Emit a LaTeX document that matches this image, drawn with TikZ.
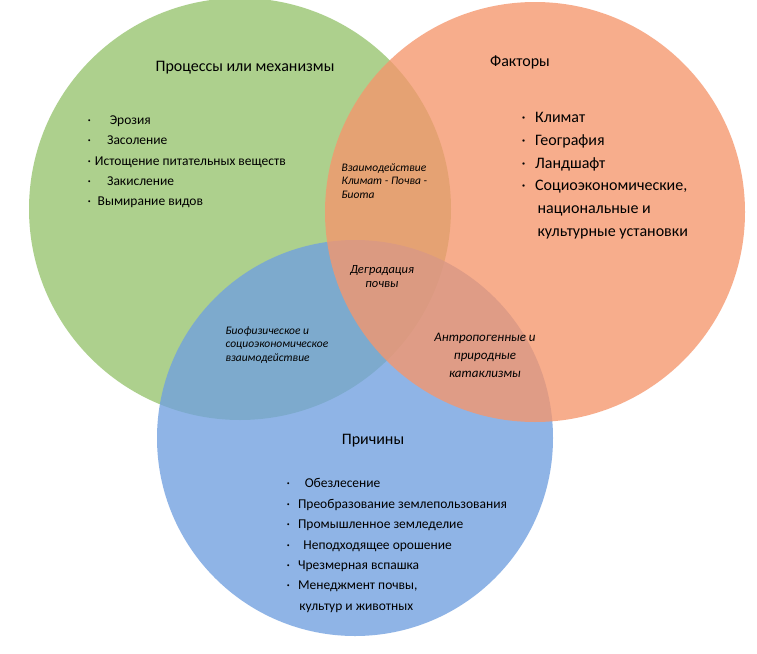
\documentclass[tikz,border=0pt]{standalone}
\usepackage{fontspec}
\setmainfont{Carlito}
\begin{document}
\begin{tikzpicture}[x=1pt,y=-1pt,
  circ/.style={opacity=0.78},
  head/.style={font=\fontsize{16}{19}\selectfont},
  lst/.style={font=\fontsize{13.5}{20.4}\selectfont,align=left,anchor=west},
  big/.style={font=\fontsize{16}{22.8}\selectfont,align=left,anchor=west},
  ov/.style={font=\itshape\fontsize{11.5}{13.5}\selectfont,align=left}]
\fill[white] (0,0) rectangle (757,653);
\useasboundingbox (0,0) rectangle (757,653);
\fill[circ,fill={rgb,255:red,150;green,196;blue,110}] (240,209) circle (211);
\fill[circ,fill={rgb,255:red,112;green,160;blue,224}] (355,438) circle (198);
\fill[circ,fill={rgb,255:red,246;green,150;blue,108}] (535,212) circle (210);
\node[head] (h1) at (245,68) {Процессы или механизмы};
\node[head] (h2) at (520,62) {Факторы};
\node[head] (h3) at (373,441) {Причины};
\node[lst] (l1) at (84,161) {\begin{tabular}{@{}l@{}}
·\hspace{1.4em}Эрозия\\
·\hspace{1.2em}Засоление\\
·\hspace{0.3em}Истощение питательных веществ\\
·\hspace{1.2em}Закисление\\
·\hspace{0.5em}Вымирание видов\end{tabular}};
\node[big] (l2) at (518,175) {\begin{tabular}{@{}l@{}}
·\hspace{0.6em}Климат\\
·\hspace{0.6em}География\\
·\hspace{0.6em}Ландшафт\\
·\hspace{0.6em}Социоэкономические,\\
\hspace{1.0em}национальные и\\
\hspace{1.0em}культурные установки\end{tabular}};
\node[lst] (l3) at (283,545) {\begin{tabular}{@{}l@{}}
·\hspace{1.1em}Обезлесение\\
·\hspace{0.6em}Преобразование землепользования\\
·\hspace{0.6em}Промышленное земледелие\\
·\hspace{1.0em}Неподходящее орошение\\
·\hspace{0.6em}Чрезмерная вспашка\\
·\hspace{0.6em}Менеджмент почвы,\\
\hspace{0.95em}культур и животных\end{tabular}};
\node[ov,anchor=west] (o1) at (338,181) {Взаимодействие\\Климат - Почва -\\Биота};
\node[ov,align=center,font=\itshape\fontsize{12.5}{14}\selectfont] (o2) at (382,277) {Деградация\\почвы};
\node[ov,anchor=west] (o3) at (222,345) {Биофизическое и\\социоэкономическое\\взаимодействие};
\node[ov,align=center,font=\itshape\fontsize{13}{18}\selectfont] (o4) at (485,355) {Антропогенные и\\природные\\катаклизмы};
\end{tikzpicture}
\end{document}
